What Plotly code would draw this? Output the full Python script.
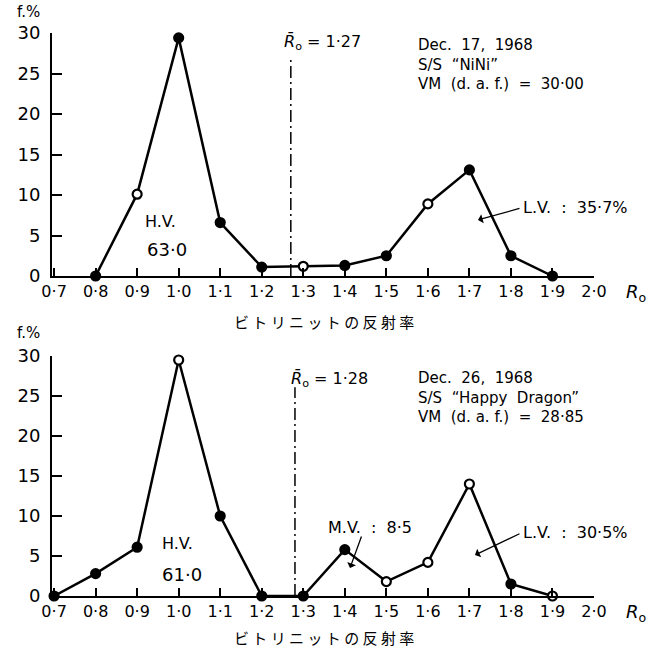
import plotly.graph_objects as go

# ---------------- data ----------------
TOP_R = [0.8, 0.9, 1.0, 1.1, 1.2, 1.3, 1.4, 1.5, 1.6, 1.7, 1.8, 1.9]
TOP_F = [0, 10.1, 29.4, 6.6, 1.1, 1.2, 1.3, 2.5, 8.9, 13.1, 2.5, 0]
TOP_OPEN = [0, 1, 0, 0, 0, 1, 0, 0, 1, 0, 0, 0]

BOT_R = [0.7, 0.8, 0.9, 1.0, 1.1, 1.2, 1.3, 1.4, 1.5, 1.6, 1.7, 1.8, 1.9]
BOT_F = [0, 2.8, 6.1, 29.5, 10.0, 0, 0, 5.8, 1.8, 4.2, 14.0, 1.5, 0]
BOT_OPEN = [0, 0, 0, 1, 0, 0, 0, 0, 1, 1, 1, 0, 1]

R_MEAN = [1.27, 1.28]
X_TICKS = [0.7, 0.8, 0.9, 1.0, 1.1, 1.2, 1.3, 1.4, 1.5, 1.6, 1.7, 1.8, 1.9, 2.0]
X_TICK_TEXT = ["0·7", "0·8", "0·9", "1·0", "1·1", "1·2", "1·3",
               "1·4", "1·5", "1·6", "1·7", "1·8", "1·9", "2·0"]
Y_TICKS = [0, 5, 10, 15, 20, 25, 30]

X_LABEL = "ビ ト リ ニ ッ ト の 反 射 率"
TOP_INFO = ["Dec.  17,  1968", "S/S  “NiNi”", "VM  (d. a. f.)  =  30·00"]
BOT_INFO = ["Dec.  26,  1968", "S/S  “Happy  Dragon”", "VM  (d. a. f.)  =  28·85"]

W, H = 660, 650
FONT = "DejaVu Sans"
JP = "Noto Sans CJK JP"


def px(x):
    return x / W


def py(y):
    return 1 - y / H


fig = go.Figure()


def series(xs, ys, opens, xa, ya):
    fig.add_trace(go.Scatter(
        x=xs, y=ys, mode="lines+markers", xaxis=xa, yaxis=ya,
        line=dict(color="black", width=2.5),
        marker=dict(size=9, color=["white" if o else "black" for o in opens],
                    line=dict(color="black", width=2.2)),
        cliponaxis=False, showlegend=False, hoverinfo="x+y"))


series(TOP_R, TOP_F, TOP_OPEN, "x", "y")
series(BOT_R, BOT_F, BOT_OPEN, "x2", "y2")

xdom = [px(52), px(594)]
common_x = dict(range=[0.695, 2.0], tickvals=X_TICKS, ticktext=X_TICK_TEXT,
                ticks="inside", ticklen=8, tickwidth=1.5, tickcolor="black",
                showline=True, linewidth=2, linecolor="black", showgrid=False,
                zeroline=False, tickfont=dict(family=FONT, size=16, color="black"),
                domain=xdom, fixedrange=True, automargin=False,
                ticklabelstandoff=0)
common_y = dict(range=[0, 30], tickvals=Y_TICKS, ticks="inside", ticklen=10,
                tickwidth=1.5, tickcolor="black", showline=True, linewidth=2,
                linecolor="black", showgrid=False, zeroline=False,
                tickfont=dict(family=FONT, size=18, color="black"),
                ticklabelstandoff=6, fixedrange=True, automargin=False)

fig.update_layout(
    width=W, height=H, margin=dict(l=0, r=0, t=0, b=0, autoexpand=False),
    paper_bgcolor="white", plot_bgcolor="white",
    xaxis=dict(common_x, anchor="y"),
    yaxis=dict(common_y, anchor="x", domain=[py(276), py(33)]),
    xaxis2=dict(common_x, anchor="y2"),
    yaxis2=dict(common_y, anchor="x2", domain=[py(596), py(356)]),
)

# mean reflectance dash-dot lines
fig.add_shape(type="line", xref="x", yref="y", x0=R_MEAN[0], x1=R_MEAN[0],
              y0=0, y1=27, line=dict(color="black", width=1.5, dash="12px,4px,2px,4px"))
fig.add_shape(type="line", xref="x2", yref="y2", x0=R_MEAN[1], x1=R_MEAN[1],
              y0=0, y1=26.1, line=dict(color="black", width=1.5, dash="12px,4px,2px,4px"))

ann = []


def text(s, x, y, size=16, xanchor="center", yanchor="middle", family=FONT, align="center"):
    ann.append(dict(text=s, x=px(x), y=py(y), xref="paper", yref="paper",
                    xanchor=xanchor, yanchor=yanchor, showarrow=False, align=align,
                    font=dict(family=family, size=size, color="black")))


def arrow(tx, ty, hx, hy):
    # tail at pixel (tx, ty); arrow head at pixel (hx, hy)
    ann.append(dict(text="", x=px(hx), y=py(hy), xref="paper", yref="paper",
                    ax=tx - hx, ay=ty - hy, axref="pixel", ayref="pixel",
                    showarrow=True, arrowhead=1, arrowsize=1.2, arrowwidth=1.3,
                    arrowcolor="black"))


for base, info, mean, hv, lv in [(0, TOP_INFO, "1·27", "63·0", "35·7%"),
                                 (1, BOT_INFO, "1·28", "61·0", "30·5%")]:
    if base == 0:
        fy, xly, r0y, iy, mny, mnx = 12, 322, 293, 64, 43, 322
        hvx, hvy, hv2x, hv2y = 160, 221, 167, 250
        lvy, lvh = 207, (478, 220)
    else:
        fy, xly, r0y, iy, mny, mnx = 333, 637, 613, 397, 379, 329
        hvx, hvy, hv2x, hv2y = 177, 543, 182, 574
        lvy, lvh = 532, (475, 555)
    text("f.%", 15, fy, size=15, xanchor="left")
    text(X_LABEL, 324, xly, size=15, family=JP)
    text("<i>R</i><sub>o</sub>", 624, r0y, size=18, xanchor="left")
    text("<br>".join(info), 416, iy, size=15, xanchor="left", align="left")
    text("<i>R̄</i><sub>o</sub> = " + mean, mnx, mny, size=16)
    text("H.V.", hvx, hvy, size=16)
    text(hv, hv2x, hv2y, size=18)
    text("L.V.  :  " + lv, 521, lvy, size=16, xanchor="left")
    arrow(521, lvy + 1, lvh[0], lvh[1])

text("M.V.  :  8·5", 370, 527, size=16)
arrow(362, 535, 350, 568)

fig.update_layout(annotations=ann)
fig.write_html("out.html")
